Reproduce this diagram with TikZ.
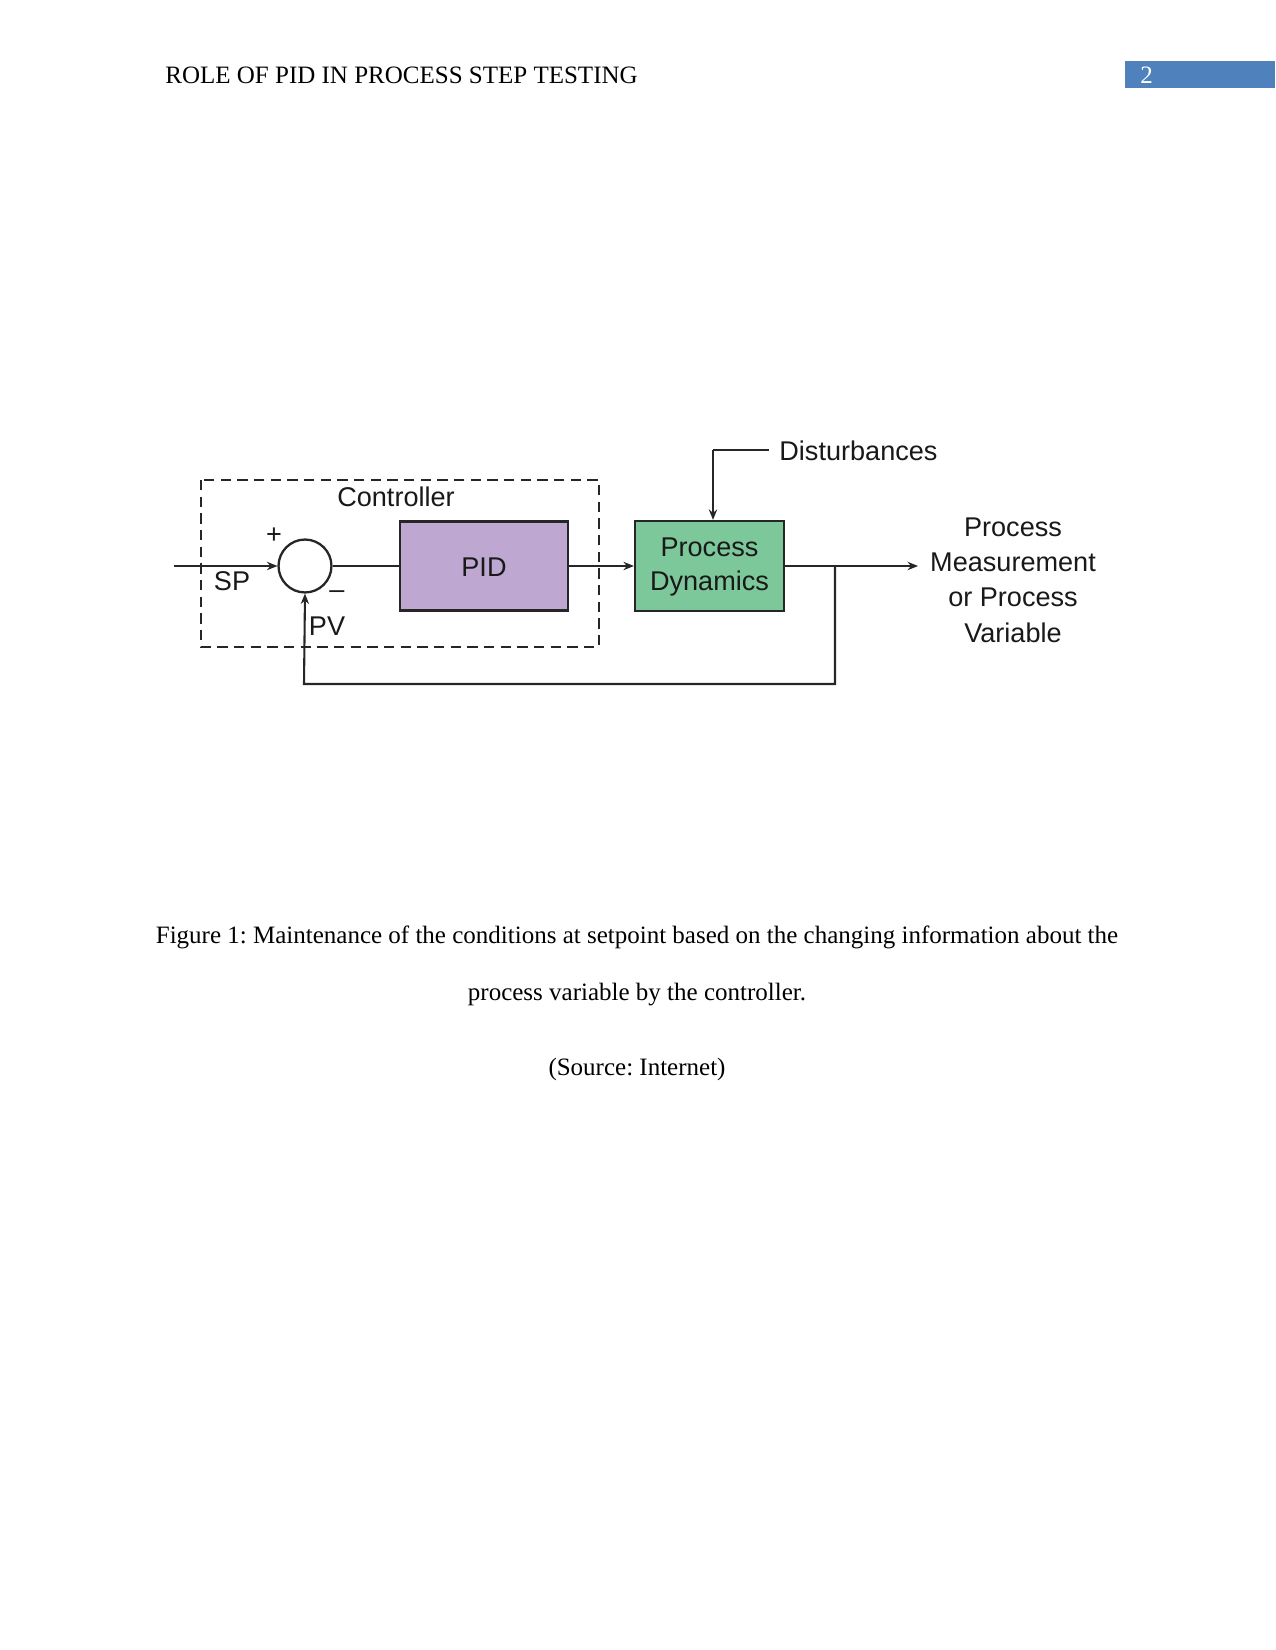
\documentclass[tikz,border=0pt]{standalone}
\usepackage{fontspec}
\setmainfont{Liberation Serif}
\newfontfamily\diagfont{Liberation Sans}
\usetikzlibrary{arrows.meta}
\definecolor{pidfill}{RGB}{190,168,210}
\definecolor{pdfill}{RGB}{125,200,155}
\definecolor{hdrblue}{RGB}{79,129,189}
\frenchspacing
\begin{document}
\begin{tikzpicture}[x=0.48pt,y=-0.48pt,
  lbl/.style={font=\diagfont\fontsize{13}{16}\selectfont, inner sep=0pt, text=black!90},
  blk/.style={draw=black!85, line width=1.1pt, inner sep=0pt},
  wire/.style={draw=black!85, line width=1pt},
  arr/.style={wire, -{Stealth[length=5pt,width=4pt]}},
  doc/.style={font=\fontsize{12}{14}\selectfont, inner sep=0pt}]
\useasboundingbox (0,0) rectangle (1275,1650);
% header
\node[doc, anchor=base west] (hdr) at (165,84) {ROLE OF PID IN PROCESS STEP TESTING};
\fill[hdrblue] (1125,61) rectangle (1275,88);
\node[doc, anchor=base west, text=white] (pg) at (1140,84) {2};
% controller box
\draw[black!85, line width=1.1pt, dash pattern=on 5pt off 3pt] (201,480) rectangle (599,647);
\node[lbl] (ctrl) at (396,497) {Controller};
% summing junction
\node[draw=black!85, line width=1.1pt, circle, minimum size=25.4pt, inner sep=0pt] (sum) at (305,566) {};
\coordinate (spin) at (174,566);
\node[lbl] (plus) at (274,536) {+};
\node[lbl] (sp) at (232,581) {SP};
\node[lbl] (minus) at (337,595) {\textendash};
\node[lbl] (pv) at (327,626) {PV};
% PID
\node[blk, fill=pidfill, minimum width=80.6pt, minimum height=42.7pt] (pid) at (484,566) {};
\node[lbl] (pidt) at (484,567) {PID};
% process dynamics
\node[blk, fill=pdfill, minimum width=71.5pt, minimum height=43.2pt] (pd) at (709.5,566) {};
\node[lbl, align=center] (pdt) at (709.5,567) {Process\\[0pt]Dynamics};
% disturbances
\node[lbl, anchor=west] (dist) at (779,451) {Disturbances};
\coordinate (dcorner) at (713,450);
\coordinate (dstart) at (769,450);
\draw[wire] (dstart) -- (dcorner);
\draw[arr] (dcorner) -- (dcorner |- pd.north);
% output
\node[lbl, align=center] (out) at (1013,580) {Process\\[1pt]Measurement\\[1pt]or Process\\[1pt]Variable};
\coordinate (outend) at (918,566);
\coordinate (branch) at (835,566);
\coordinate (fbr) at (835,684);
\coordinate (fbl) at (304,684);
% connectors
\draw[arr] (spin) -- (sum.west);
\draw[wire] (sum.east) -- (pid.west);
\draw[arr] (pid.east) -- (pd.west);
\draw[arr] (pd.east) -- (outend);
\draw[arr] (branch) -- (fbr) -- (fbl) -- (sum.south);
% caption
\node[doc] (cap1) at (637,937) {Figure 1: Maintenance of the conditions at setpoint based on the changing information about the};
\node[doc] (cap2) at (637,995) {process variable by the controller.};
\node[doc] (cap3) at (637,1069) {(Source: Internet)};
\end{tikzpicture}
\end{document}
